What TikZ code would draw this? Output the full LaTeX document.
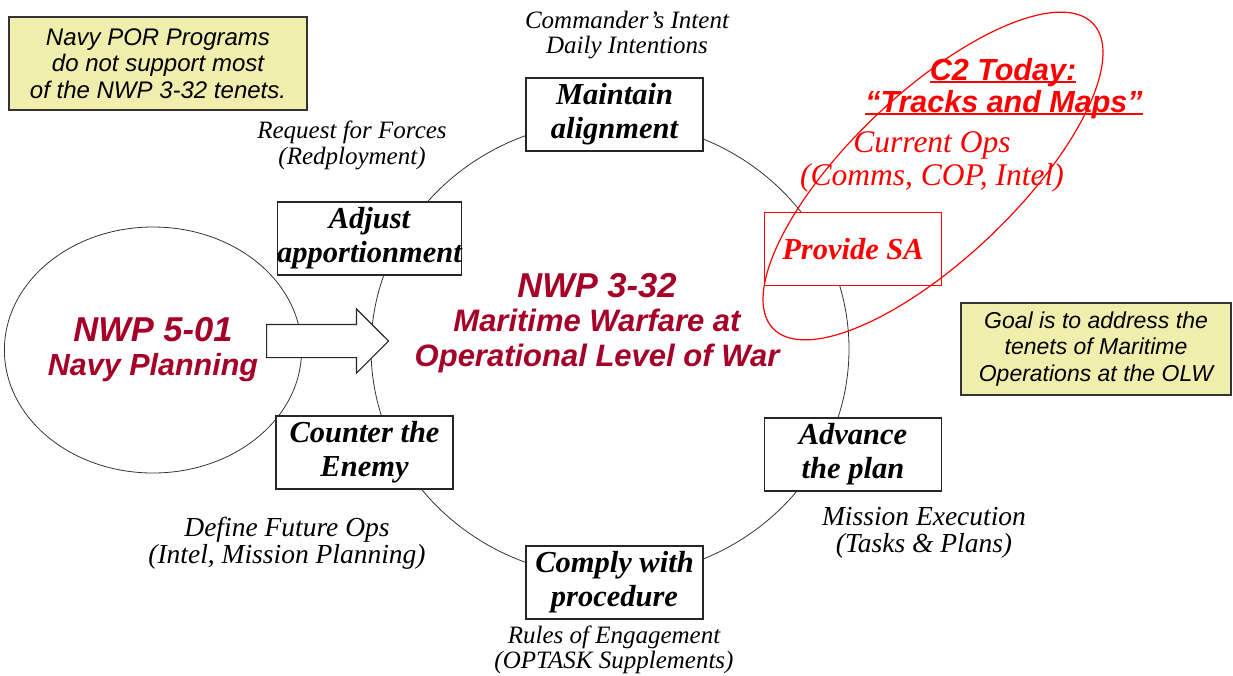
\documentclass[tikz,border=0pt]{standalone}
\usepackage{fontspec}
\setmainfont{Liberation Serif}
\setsansfont{Liberation Sans}
\usetikzlibrary{shapes.geometric, shapes.arrows}
\definecolor{navyred}{RGB}{165,0,40}
\definecolor{notefill}{RGB}{240,238,172}

\begin{document}
\begin{tikzpicture}[
            x = 1pt, y = -1pt, % pixel grid, y runs down
            task/.style = {draw=black!85, line width=1.2pt, fill=white,
                minimum width=177pt, minimum height=73pt, inner sep=0pt, align=center,
                font=\fontsize{30.5}{34}\selectfont\bfseries\itshape}, % the six tasks
            note/.style = {draw=black!80, line width=1.2pt, fill=notefill, inner sep=0pt,
                align=center, font=\sffamily\itshape\fontsize{24}{26.5}\selectfont},
            tag/.style = {align=center, inner sep=0pt, font=\itshape\fontsize{25}{25.5}\selectfont},
            bigtag/.style = {tag, font=\itshape\fontsize{27.5}{27}\selectfont},
            headline/.style = {align=center, inner sep=0pt, text=navyred,
                font=\sffamily\bfseries\itshape\fontsize{31}{34.5}\selectfont},
        ]
        \useasboundingbox (0,0) rectangle (1233,675);

        % the cycle and the planning ellipse
        \draw[black!80, line width=0.8pt] (610,349) ellipse [x radius=239, y radius=228];
        \node[ellipse, draw=black!80, line width=0.8pt, minimum width=268pt, minimum height=246pt,
            headline, font=\sffamily\bfseries\itshape\fontsize{30.5}{34}\selectfont] (plan) at (153,350)
            {{\fontsize{34.5}{36}\selectfont NWP 5-01}\\Navy Planning};
        \node[single arrow, draw=black!85, line width=1.2pt, fill=white, inner xsep=0pt,
            inner ysep=16pt, single arrow head extend=15.5pt, minimum height=122pt,
            anchor=tail] (feed) at (266,341) {};

        % tasks round the cycle
        \node[task] (maintain) at (614.5,114.5) {Maintain\\alignment};
        \node[task] (adjust) at (369.5,238.5) {Adjust\\apportionment};
        \node[task, draw=red, text=red] (provide) at (853,249) {Provide SA};
        \node[task] (counter) at (364.5,452.5) {Counter the\\Enemy};
        \node[task] (comply) at (614.5,582.5) {Comply with\\procedure};
        \node[task] (advance) at (853,454.5) {Advance\\the plan};

        \node[headline] (olw) at (597,323)
            {{\fontsize{34.5}{36}\selectfont NWP 3-32}\\Maritime Warfare at\\Operational Level of War};

        % what each task stands for
        \node[tag] (intent) at (627,35) {Commander’s Intent\\Daily Intentions};
        \node[tag] (forces) at (352,145.5) {Request for Forces\\(Redployment)};
        \node[bigtag] (future) at (287,543) {Define Future Ops\\(Intel, Mission Planning)};
        \node[tag] (roe) at (614,650) {Rules of Engagement\\(OPTASK Supplements)};
        \node[bigtag] (exec) at (924,533) {Mission Execution\\(Tasks \& Plans)};

        % C2 today
        \draw[red, line width=1.2pt, rotate around={43.6:(933,176)}]
            (933,176) ellipse [x radius=221, y radius=83];
        \node[tag, text=red, font=\itshape\fontsize{31.5}{33}\selectfont] (curops) at (932,162)
            {Current Ops\\(Comms, COP, Intel)};
        \node[anchor=base, inner sep=0pt, text=red, font=\sffamily\bfseries\itshape\fontsize{30.5}{32}\selectfont]
            (c2a) at (1003,80) {C2 Today:};
        \node[anchor=base, inner sep=0pt, text=red, font=\sffamily\bfseries\itshape\fontsize{30.5}{32}\selectfont]
            (c2b) at (1004,112) {“Tracks and Maps”};
        \draw[red, line width=1.5pt] ([yshift=-2pt]c2a.base west) -- ([yshift=-2pt]c2a.base east);
        \draw[red, line width=1.5pt] ([yshift=-2pt]c2b.base west) -- ([yshift=-2pt]c2b.base east);

        % side notes
        \node[note, minimum width=298pt, minimum height=93pt] (por) at (158,63.5)
            {Navy POR Programs\\do not support most\\of the NWP 3-32 tenets.};
        \node[note, minimum width=270pt, minimum height=92pt,
            font=\sffamily\itshape\fontsize{23}{26.5}\selectfont] (goal) at (1096,349)
            {Goal is to address the\\tenets of Maritime\\Operations at the OLW};
        \end{tikzpicture}
\end{document}
